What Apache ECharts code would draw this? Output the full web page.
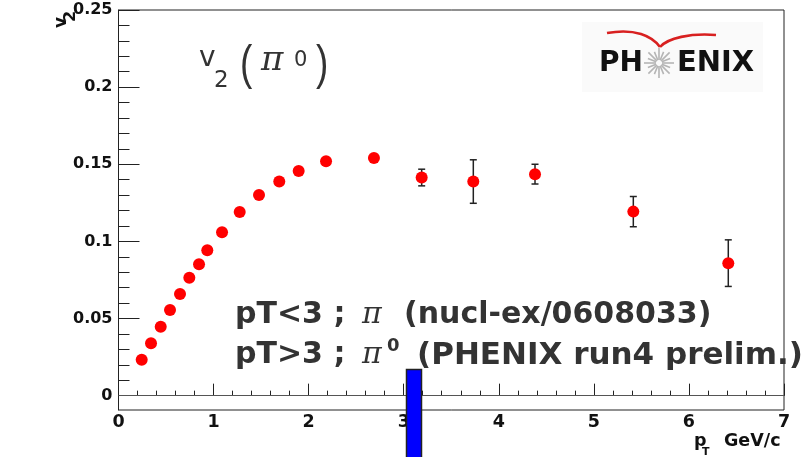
<!DOCTYPE html>
<html>
<head>
<meta charset="utf-8">
<script src="https://cdn.jsdelivr.net/npm/echarts@6/dist/echarts.min.js"></script>
<style>
  html, body { margin: 0; padding: 0; background: #fff; }
  #chart { width: 806px; height: 457px; }
</style>
</head>
<body>
<div id="chart"></div>
<script>
// pT < 3 : charged pions (nucl-ex/0608033)
const ptLow = [0.244, 0.342, 0.444, 0.542, 0.647, 0.745, 0.847, 0.934, 1.089, 1.275, 1.478, 1.691, 1.895, 2.183, 2.687]
const v2Low = [0.0232, 0.034, 0.0447, 0.0556, 0.0659, 0.0765, 0.0852, 0.0943, 0.106, 0.119, 0.13, 0.1388, 0.1457, 0.152, 0.154]

// pT > 3 : pi0 (PHENIX run4 prelim.)
const ptHigh = [3.189, 3.732, 4.381, 5.415, 6.414]
const v2High = [0.1414, 0.1388, 0.1436, 0.1193, 0.0859]
const v2HighErr = [0.0054, 0.0141, 0.0064, 0.0098, 0.0151]

// axis ticks
const yMajorTicks = [0, 0.05, 0.1, 0.15, 0.2, 0.25]
const yMinorTicks = [0.01, 0.02, 0.03, 0.04, 0.06, 0.07, 0.08, 0.09, 0.11, 0.12, 0.13, 0.14,
  0.16, 0.17, 0.18, 0.19, 0.21, 0.22, 0.23, 0.24]
const xTickLabels = ['0', '1', '2', '3', '4', '5', '6', '7']

const BOLD = 'DejaVu Sans'
const INK = '#333'
const FRAME = '#222'

const yMin = -0.0093
const yMax = 0.25

// PHENIX logo star spokes
const starSpokes = []
for (let i = 0; i < 16; i++) {
  const a = i * Math.PI / 8
  const r = i % 2 ? 12 : 15
  starSpokes.push({
    type: 'line',
    shape: { x1: 659 + 3 * Math.cos(a), y1: 63 + 3 * Math.sin(a), x2: 659 + r * Math.cos(a), y2: 63 + r * Math.sin(a) },
    style: { stroke: '#b5b5b5', lineWidth: 1.6 }
  })
}

const option = {
  animation: false,
  grid: {
    left: 118.5,
    right: 22,
    top: 10,
    bottom: 47,
    show: true,
    borderColor: FRAME,
    borderWidth: 1
  },
  xAxis: {
    type: 'value',
    min: 0,
    max: 7,
    interval: 1,
    axisLine: { lineStyle: { color: FRAME, width: 1 } },
    axisTick: { inside: true, length: 12, lineStyle: { color: FRAME } },
    minorTick: { show: true, splitNumber: 5, length: 5, lineStyle: { color: FRAME } },
    splitLine: { show: false },
    axisLabel: {
      margin: 3,
      color: '#111',
      fontFamily: BOLD,
      fontWeight: 'bold',
      fontSize: 17.5,
      formatter: v => xTickLabels[Math.round(v)]
    }
  },
  yAxis: [
    {
      type: 'value',
      min: yMin,
      max: yMax,
      axisLine: { show: true, lineStyle: { color: FRAME, width: 1 } },
      axisTick: { show: true, inside: true, length: 21, customValues: yMajorTicks, lineStyle: { color: FRAME } },
      splitLine: { show: false },
      axisLabel: {
        customValues: yMajorTicks,
        margin: 6,
        color: '#111',
        fontFamily: BOLD,
        fontWeight: 'bold',
        fontSize: 16,
        formatter: v => String(+v.toFixed(2))
      }
    },
    {
      // minor ticks only
      type: 'value',
      min: yMin,
      max: yMax,
      position: 'left',
      axisLine: { show: false },
      axisTick: { show: true, inside: true, length: 11, customValues: yMinorTicks, lineStyle: { color: FRAME } },
      axisLabel: { show: false },
      splitLine: { show: false }
    }
  ],
  series: [
    {
      name: 'pi (nucl-ex/0608033)',
      type: 'scatter',
      symbol: 'circle',
      symbolSize: 12,
      itemStyle: { color: '#ff0000', opacity: 1 },
      data: ptLow.map((x, i) => [x, v2Low[i]]),
      z: 4,
      markLine: {
        silent: true,
        symbol: 'none',
        label: { show: false },
        lineStyle: { color: '#555', width: 1, type: 'solid' },
        data: [{ yAxis: 0 }]
      }
    },
    {
      name: 'error',
      type: 'custom',
      data: ptHigh.map((x, i) => [x, v2High[i] - v2HighErr[i], v2High[i] + v2HighErr[i]]),
      encode: { x: 0, y: [1, 2] },
      z: 3,
      renderItem(params, api) {
        const lo = api.coord([api.value(0), api.value(1)])
        const hi = api.coord([api.value(0), api.value(2)])
        const w = 3.5
        const st = { stroke: '#222', lineWidth: 1.5 }
        return {
          type: 'group',
          children: [
            { type: 'line', shape: { x1: lo[0], y1: lo[1], x2: hi[0], y2: hi[1] }, style: st },
            { type: 'line', shape: { x1: lo[0] - w, y1: lo[1], x2: lo[0] + w, y2: lo[1] }, style: st },
            { type: 'line', shape: { x1: hi[0] - w, y1: hi[1], x2: hi[0] + w, y2: hi[1] }, style: st }
          ]
        }
      }
    },
    {
      name: 'pi0 (PHENIX run4 prelim.)',
      type: 'scatter',
      symbol: 'circle',
      symbolSize: 12,
      itemStyle: { color: '#ff0000', opacity: 1 },
      data: ptHigh.map((x, i) => [x, v2High[i]]),
      z: 4
    }
  ],
  graphic: [
    // title v2(pi0)
    { type: 'text', x: 199, y: 58.5, style: { text: 'v', font: 'normal 28px "DejaVu Sans"', fill: INK, verticalAlign: 'middle' } },
    { type: 'text', x: 214, y: 81.5, style: { text: '2', font: 'normal 23px "DejaVu Sans"', fill: INK, verticalAlign: 'middle' } },
    { type: 'text', x: 240, y: 66, scaleY: 1.3, style: { text: '(', font: 'normal 37px "Liberation Sans"', fill: INK, verticalAlign: 'middle' } },
    { type: 'text', x: 261, y: 61, style: { text: 'π', font: 'italic 34px "DejaVu Serif"', fill: INK, verticalAlign: 'middle' } },
    { type: 'text', x: 294, y: 60.5, style: { text: '0', font: 'normal 21px "DejaVu Sans"', fill: INK, verticalAlign: 'middle' } },
    { type: 'text', x: 316, y: 66, scaleY: 1.3, style: { text: ')', font: 'normal 37px "Liberation Sans"', fill: INK, verticalAlign: 'middle' } },

    // annotation lines
    { type: 'text', x: 235, y: 315.5, z: 10, style: { text: 'pT<3 ;', font: 'bold 30px "DejaVu Sans"', fill: INK, verticalAlign: 'middle' } },
    { type: 'text', x: 362, y: 315.5, z: 10, style: { text: 'π', font: 'italic 30px "DejaVu Serif"', fill: INK, verticalAlign: 'middle' } },
    { type: 'text', x: 404, y: 315.5, z: 10, style: { text: '(nucl-ex/0608033)', font: 'bold 30px "DejaVu Sans"', fill: INK, verticalAlign: 'middle' } },
    { type: 'text', x: 235, y: 355.5, z: 10, style: { text: 'pT>3 ;', font: 'bold 30px "DejaVu Sans"', fill: INK, verticalAlign: 'middle' } },
    { type: 'text', x: 362, y: 355.5, z: 10, style: { text: 'π', font: 'italic 30px "DejaVu Serif"', fill: INK, verticalAlign: 'middle' } },
    { type: 'text', x: 387, y: 346, z: 10, style: { text: '0', font: 'bold 18px "DejaVu Sans"', fill: INK, verticalAlign: 'middle' } },
    { type: 'text', x: 417, y: 355.5, z: 10, style: { text: '(PHENIX run4 prelim.)', font: 'bold 31px "DejaVu Sans"', fill: INK, verticalAlign: 'middle' } },

    // axis titles
    { type: 'text', x: 62, y: 28, rotation: Math.PI / 2, style: { text: 'v', font: 'bold 17px "DejaVu Sans"', fill: '#111', verticalAlign: 'middle' } },
    { type: 'text', x: 71, y: 22, rotation: Math.PI / 2, style: { text: '2', font: 'bold 16px "DejaVu Sans"', fill: '#111', verticalAlign: 'middle' } },
    { type: 'text', x: 694, y: 441.5, style: { text: 'p', font: 'bold 17.5px "DejaVu Sans"', fill: '#111', verticalAlign: 'middle' } },
    { type: 'text', x: 702, y: 452, style: { text: 'T', font: 'bold 11px "DejaVu Sans"', fill: '#111', verticalAlign: 'middle' } },
    { type: 'text', x: 724, y: 441.5, style: { text: 'GeV/c', font: 'bold 17.5px "DejaVu Sans"', fill: '#111', verticalAlign: 'middle' } },

    // PHENIX logo
    { type: 'rect', shape: { x: 582, y: 22, width: 181, height: 70 }, style: { fill: '#fafafa' }, z: -1 },
    { type: 'text', x: 599, y: 63.5, style: { text: 'PH', font: 'bold 28px "DejaVu Sans"', fill: '#111', verticalAlign: 'middle' } },
    { type: 'text', x: 677, y: 63.5, style: { text: 'ENIX', font: 'bold 29px "DejaVu Sans"', fill: '#111', verticalAlign: 'middle' } },
    { type: 'group', children: starSpokes },
    { type: 'bezierCurve', shape: { x1: 607, y1: 33, cpx1: 635, cpy1: 28, cpx2: 652, cpy2: 36, x2: 660, y2: 47 }, style: { stroke: '#d82020', lineWidth: 2.6, fill: null } },
    { type: 'bezierCurve', shape: { x1: 660, y1: 47, cpx1: 668, cpy1: 38, cpx2: 690, cpy2: 33, x2: 716, y2: 35 }, style: { stroke: '#d82020', lineWidth: 2.6, fill: null } },

    // blue marker bar
    { type: 'rect', z: 100, shape: { x: 406.5, y: 369.5, width: 15, height: 100 }, style: { fill: '#0000ff', stroke: '#222', lineWidth: 1.5 } }
  ]
}

const chart = echarts.init(document.getElementById('chart'))
chart.setOption(option)
</script>
</body>
</html>
